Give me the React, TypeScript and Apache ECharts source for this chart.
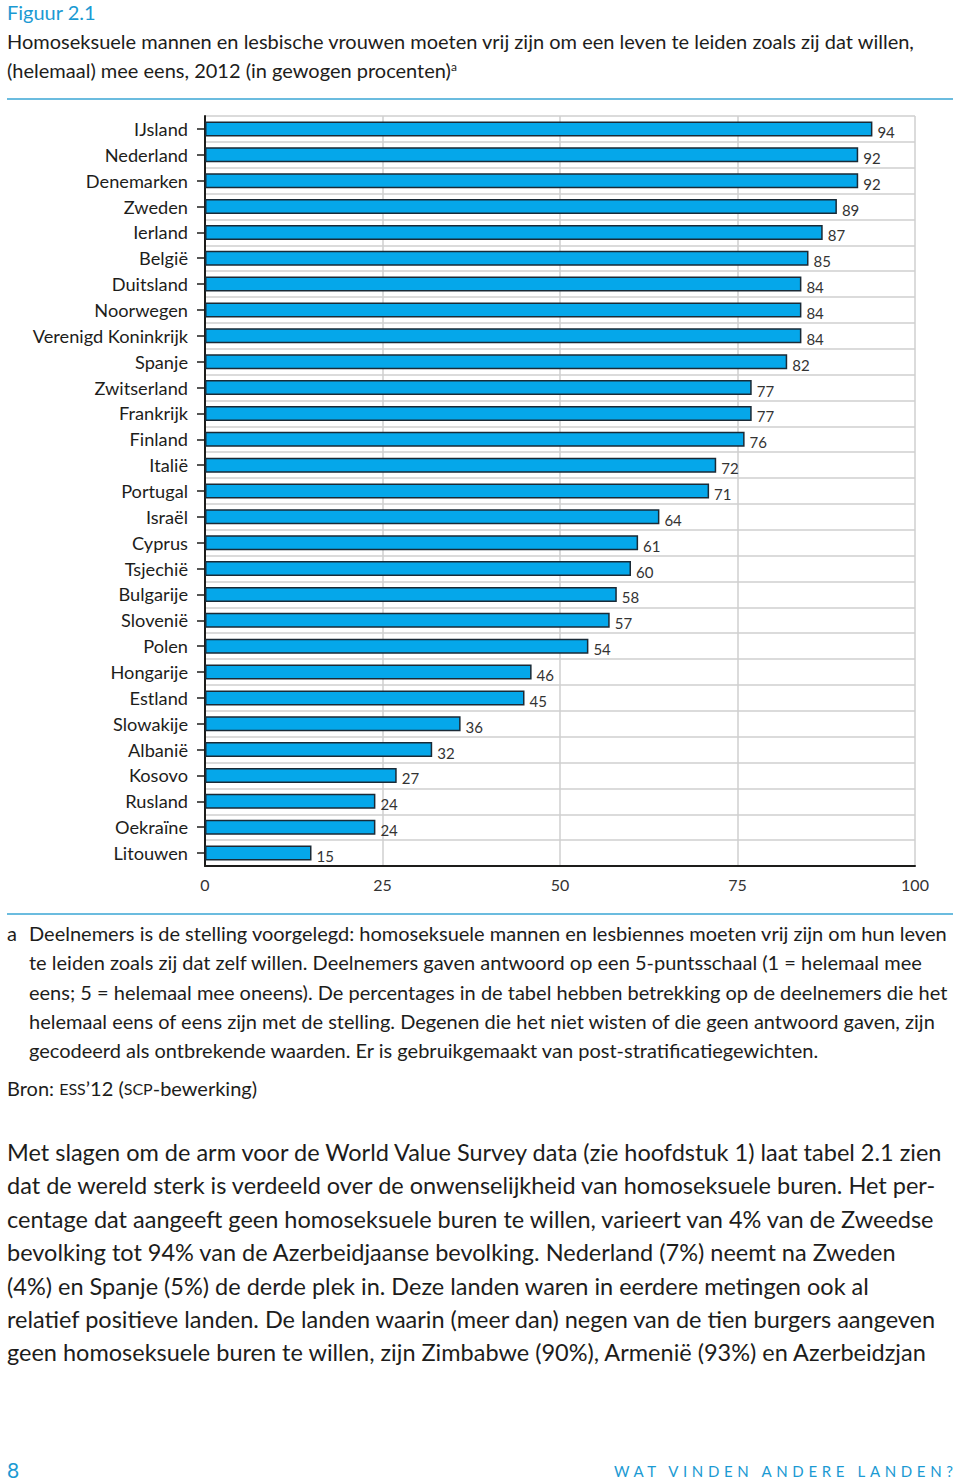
import React, { useEffect, useRef } from "react";
import * as echarts from "echarts";

const countries = [
  "IJsland", "Nederland", "Denemarken", "Zweden", "Ierland", "België", "Duitsland",
  "Noorwegen", "Verenigd Koninkrijk", "Spanje", "Zwitserland", "Frankrijk", "Finland",
  "Italië", "Portugal", "Israël", "Cyprus", "Tsjechië", "Bulgarije", "Slovenië", "Polen",
  "Hongarije", "Estland", "Slowakije", "Albanië", "Kosovo", "Rusland", "Oekraïne", "Litouwen",
];
const values = [
  94, 92, 92, 89, 87, 85, 84, 84, 84, 82, 77, 77, 76, 72, 71, 64, 61, 60, 58, 57, 54,
  46, 45, 36, 32, 27, 24, 24, 15,
];
const xTicks = [0, 25, 50, 75, 100];

const figLabel = "Figuur 2.1";
const titleLines = [
  "Homoseksuele mannen en lesbische vrouwen moeten vrij zijn om een leven te leiden zoals zij dat willen,",
  "(helemaal) mee eens, 2012 (in gewogen procenten){sup|a}",
];
const noteLines = [
  "Deelnemers is de stelling voorgelegd: homoseksuele mannen en lesbiennes moeten vrij zijn om hun leven",
  "te leiden zoals zij dat zelf willen. Deelnemers gaven antwoord op een 5-puntsschaal (1 = helemaal mee",
  "eens; 5 = helemaal mee oneens). De percentages in de tabel hebben betrekking op de deelnemers die het",
  "helemaal eens of eens zijn met de stelling. Degenen die het niet wisten of die geen antwoord gaven, zijn",
  "gecodeerd als ontbrekende waarden. Er is gebruikgemaakt van post-stratificatiegewichten.",
];
const sourceLine = "Bron: {sc|ESS}’12 ({sc|SCP}-bewerking)";
const bodyLines = [
  "Met slagen om de arm voor de World Value Survey data (zie hoofdstuk 1) laat tabel 2.1 zien",
  "dat de wereld sterk is verdeeld over de onwenselijkheid van homoseksuele buren. Het per-",
  "centage dat aangeeft geen homoseksuele buren te willen, varieert van 4% van de Zweedse",
  "bevolking tot 94% van de Azerbeidjaanse bevolking. Nederland (7%) neemt na Zweden",
  "(4%) en Spanje (5%) de derde plek in. Deze landen waren in eerdere metingen ook al",
  "relatief positieve landen. De landen waarin (meer dan) negen van de tien burgers aangeven",
  "geen homoseksuele buren te willen, zijn Zimbabwe (90%), Armenië (93%) en Azerbeidzjan",
];
const pageNumber = "8";
const runningHead = "WAT VINDEN ANDERE LANDEN?";

const FONT = "Lato, 'Open Sans', sans-serif";
const BLUE = "#1b9ad3";
const BAR = "#05a7ea";
const TEXT = "#1d1d1b";

export default function App() {
  const ref = useRef<HTMLDivElement>(null);

  useEffect(() => {
    if (!ref.current) return;
    const chart = echarts.init(ref.current, undefined, { renderer: "svg" });

    const graphics: any[] = [];
    graphics.push({
      type: "text", left: 7, top: 2,
      style: { text: figLabel, fill: BLUE, fontFamily: FONT, fontSize: 20 },
    });
    titleLines.forEach((t, i) => {
      graphics.push({
        type: "text", left: 7, top: 31 + i * 29,
        style: {
          text: t, fill: TEXT, fontFamily: FONT, fontSize: 20,
          rich: { sup: { fontSize: 12, verticalAlign: "top", fill: TEXT, fontFamily: FONT, padding: [0, 0, 8, 0] } },
        },
      });
    });
    graphics.push({
      type: "line", shape: { x1: 7, y1: 99, x2: 953, y2: 99 },
      style: { stroke: "#3aa6d4", lineWidth: 1.5 },
    });
    graphics.push({
      type: "line", shape: { x1: 7, y1: 914, x2: 953, y2: 914 },
      style: { stroke: "#3aa6d4", lineWidth: 1.5 },
    });
    graphics.push({
      type: "text", left: 7, top: 923,
      style: { text: "a", fill: TEXT, fontFamily: FONT, fontSize: 20 },
    });
    noteLines.forEach((t, i) => {
      graphics.push({
        type: "text", left: 29, top: 923 + i * 29.3,
        style: { text: t, fill: TEXT, fontFamily: FONT, fontSize: 20 },
      });
    });
    graphics.push({
      type: "text", left: 7, top: 1078,
      style: {
        text: sourceLine, fill: TEXT, fontFamily: FONT, fontSize: 20,
        rich: { sc: { fontSize: 16, fill: TEXT, fontFamily: FONT } },
      },
    });
    bodyLines.forEach((t, i) => {
      graphics.push({
        type: "text", left: 7, top: 1140 + i * 33.4,
        style: { text: t, fill: TEXT, fontFamily: FONT, fontSize: 23.5 },
      });
    });
    graphics.push({
      type: "text", left: 7, top: 1459,
      style: { text: pageNumber, fill: BLUE, fontFamily: FONT, fontSize: 21 },
    });

    chart.setOption({
      animation: false,
      backgroundColor: "#ffffff",
      grid: { left: 205, right: 45, top: 116, bottom: 615, containLabel: false },
      xAxis: {
        type: "value",
        min: 0,
        max: 100,
        interval: 25,
        axisLine: { show: true, lineStyle: { color: "#1d1d1b", width: 2 } },
        axisTick: { show: false },
        axisLabel: {
          color: "#333", fontFamily: FONT, fontSize: 16, margin: 10,
          formatter: (v: number) => (xTicks.includes(v) ? String(v) : ""),
        },
        splitLine: { show: true, lineStyle: { color: "#cfcfcf", width: 1.5 } },
      },
      yAxis: {
        type: "category",
        data: countries,
        inverse: true,
        axisLine: { show: true, lineStyle: { color: "#1d1d1b", width: 2 } },
        axisTick: { show: true, alignWithLabel: true, length: 8, lineStyle: { color: "#1d1d1b", width: 1.5 } },
        axisLabel: { color: TEXT, fontFamily: FONT, fontSize: 18.2, margin: 17 },
        splitLine: { show: true, lineStyle: { color: "#cfcfcf", width: 1.5 } },
      },
      series: [
        {
          type: "bar",
          data: values,
          barWidth: 15,
          itemStyle: { color: BAR, borderColor: "#1a2a36", borderWidth: 1.5 },
          label: {
            show: true, position: "right", distance: 5, offset: [0, 3],
            color: "#333", fontFamily: FONT, fontSize: 15,
          },
        },
      ],
      graphic: graphics,
    });

    return () => chart.dispose();
  }, []);

  return (
    <div style={{ position: "absolute", left: 0, top: 0, width: 960, height: 1481, background: "#fff" }}>
      <div ref={ref} style={{ position: "absolute", left: 0, top: 0, width: 960, height: 1481 }} />
      <div
        style={{
          position: "absolute", right: 7, top: 1461, color: BLUE, fontFamily: FONT,
          fontSize: 15, letterSpacing: "4.65px", lineHeight: "20px", whiteSpace: "nowrap",
          marginRight: -4.65,
        }}
      >
        {runningHead}
      </div>
    </div>
  );
}
